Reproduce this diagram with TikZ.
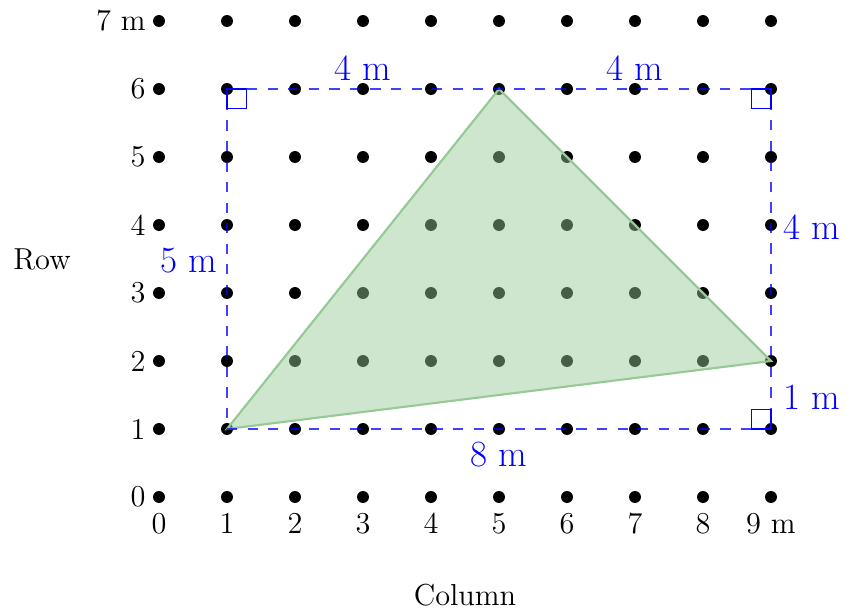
\documentclass[tikz,border=0pt]{standalone}
\usetikzlibrary{calc}
\definecolor{triGreen}{RGB}{150,201,150}
\definecolor{lblBlue}{RGB}{0,0,255}
\begin{document}
\begin{tikzpicture}[x=1cm,y=1cm,
  gdot/.style={circle,fill=black,inner sep=0pt,minimum size=0.176cm},
  ticklbl/.style={font=\fontsize{12.7}{15}\selectfont,inner sep=0pt},
  axislbl/.style={font=\fontsize{12.7}{15}\selectfont,inner sep=0pt},
  meas/.style={text=lblBlue,font=\fontsize{15.5}{18}\selectfont,inner sep=0pt},
  dashline/.style={draw=lblBlue,draw opacity=0.75,line width=0.45pt,dash pattern=on 4.3pt off 4.3pt},
  rtmark/.style={draw=lblBlue,line width=0.5pt},
  tri/.style={draw=triGreen,line width=0.9pt,fill=triGreen,fill opacity=0.47}
]
\useasboundingbox (-2.338,-1.647) rectangle (10.118,7.309);
% grid dots
\foreach \i in {0,...,9}{
  \foreach \j in {0,...,7}{
    \node[gdot] (d\i-\j) at (\i,\j) {};
  }
}
% tick labels
\foreach \j in {0,...,6}{
  \node[ticklbl,anchor=east] (ry\j) at (-0.19,\j) {\j};
}
\node[ticklbl,anchor=east] (ry7) at (-0.19,7) {7 m};
\foreach \i in {0,...,8}{
  \node[ticklbl] (cx\i) at (\i,-0.39) {\i};
}
\node[ticklbl] (cx9) at (9,-0.39) {9 m};
\node[axislbl] (rowlbl) at (-1.72,3.5) {Row};
\node[axislbl] (collbl) at (4.5,-1.45) {Column};
% triangle
\coordinate (A) at (1,1);
\coordinate (B) at (5,6);
\coordinate (C) at (9,2);
\filldraw[tri,draw opacity=1] (A) -- (B) -- (C) -- cycle;
% dashed rectangle
\coordinate (R1) at (1,1);
\coordinate (R2) at (9,1);
\coordinate (R3) at (9,6);
\coordinate (R4) at (1,6);
\draw[dashline] (R1) -- (R2) -- (R3) -- (R4) -- cycle;
% right angle marks
\draw[rtmark] (R4) rectangle ++(0.29,-0.29);
\draw[rtmark] (R3) rectangle ++(-0.29,-0.29);
\draw[rtmark] (R2) rectangle ++(-0.29,0.29);
% measurement labels
\node[meas] (m1) at (3,6.31) {4 m};
\node[meas] (m2) at (7,6.31) {4 m};
\node[meas,anchor=east] (m3) at (0.86,3.47) {5 m};
\node[meas,anchor=west] (m4) at (9.18,3.97) {4 m};
\node[meas,anchor=west] (m5) at (9.18,1.47) {1 m};
\node[meas] (m6) at (5,0.62) {8 m};
\end{tikzpicture}
\end{document}
